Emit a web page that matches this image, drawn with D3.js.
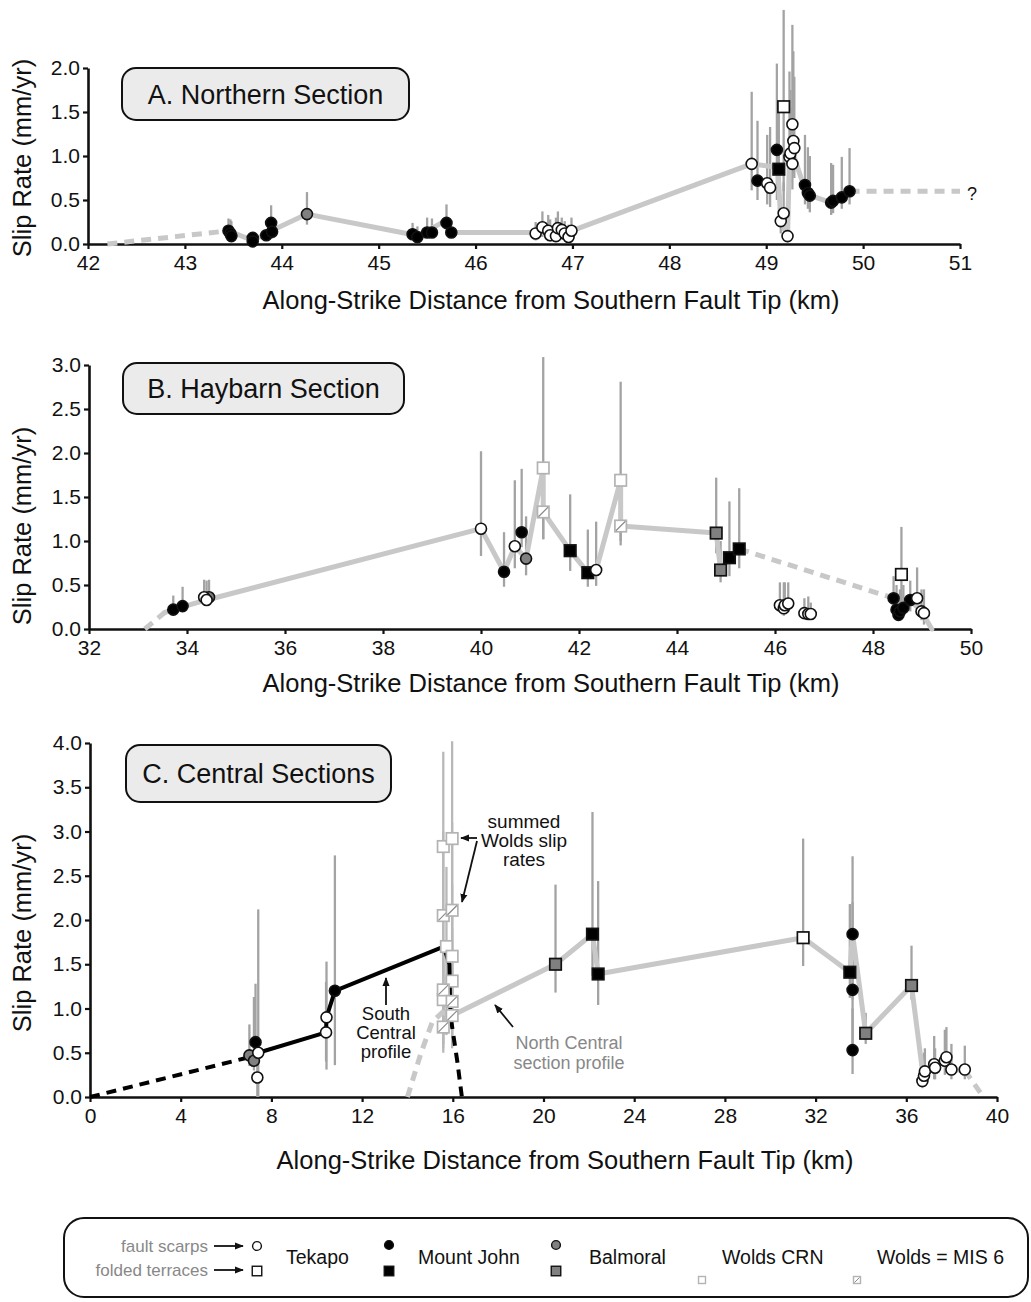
<!DOCTYPE html>
<html>
<head>
<meta charset="utf-8">
<script src="https://cdn.jsdelivr.net/npm/d3@7"></script>
<style>
  body { margin: 0; background: #fff; }
  svg { display: block; }
  text { font-family: "Liberation Sans", Arial, Helvetica, sans-serif; }
</style>
</head>
<body>
<svg id="chart" width="1031" height="1302"></svg>
<script>
// Slip-rate observations: [distance along strike (km), slip rate (mm/yr), lower bound, upper bound]

// ---- A. Northern Section ----
const northernTekapoScarps = [
  [46.62, 0.12, 0.04, 0.25], [46.69, 0.19, 0.08, 0.37], [46.75, 0.15, 0.05, 0.33],
  [46.77, 0.10, 0.03, 0.28], [46.83, 0.09, 0.03, 0.30], [46.85, 0.18, 0.07, 0.37],
  [46.89, 0.16, 0.05, 0.30], [46.92, 0.12, 0.04, 0.26], [46.96, 0.08, 0.02, 0.22],
  [46.99, 0.15, 0.05, 0.30], [48.85, 0.91, 0.61, 1.73], [49.01, 0.69, 0.45, 1.24],
  [49.04, 0.64, 0.42, 1.33], [49.15, 0.26, 0.12, 0.55], [49.18, 0.35, 0.15, 0.70],
  [49.22, 0.09, 0.02, 0.30], [49.24, 0.99, 0.65, 1.96], [49.25, 1.03, 0.70, 1.75],
  [49.27, 0.91, 0.62, 1.55], [49.27, 1.36, 0.90, 2.49], [49.28, 1.17, 0.80, 2.19],
  [49.29, 1.09, 0.75, 1.90]
];
const northernTekapoTerraces = [[49.18, 1.56, 0.60, 2.66]];
const northernMtJohnScarps = [
  [43.45, 0.15, 0.06, 0.29], [43.47, 0.12, 0.05, 0.28], [43.48, 0.09, 0.03, 0.26],
  [43.70, 0.07, 0.01, 0.12], [43.70, 0.03, 0.00, 0.10], [43.84, 0.10, 0.05, 0.16],
  [43.89, 0.24, 0.10, 0.44], [43.90, 0.14, 0.06, 0.30], [45.35, 0.11, 0.05, 0.24],
  [45.40, 0.08, 0.03, 0.20], [45.50, 0.13, 0.07, 0.30], [45.55, 0.13, 0.07, 0.29],
  [45.70, 0.24, 0.10, 0.45], [45.75, 0.13, 0.08, 0.20], [48.91, 0.72, 0.50, 1.40],
  [49.11, 1.07, 0.50, 2.05], [49.40, 0.67, 0.45, 1.24], [49.43, 0.58, 0.40, 1.10],
  [49.45, 0.55, 0.36, 1.00], [49.67, 0.47, 0.33, 0.92], [49.69, 0.49, 0.35, 0.90],
  [49.78, 0.53, 0.40, 0.99], [49.86, 0.60, 0.45, 1.09]
];
const northernMtJohnTerraces = [[49.13, 0.85, 0.55, 1.50]];
const northernBalmoralScarps = [[44.26, 0.34, 0.22, 0.59]];
const northernProfile = [
  [43.45, 0.15], [43.70, 0.04], [43.87, 0.14], [44.26, 0.34], [45.33, 0.11], [45.40, 0.09],
  [45.65, 0.24], [45.75, 0.13], [46.62, 0.13], [46.97, 0.14], [48.85, 0.91], [49.12, 0.87],
  [49.15, 0.26], [49.22, 0.09], [49.24, 0.99], [49.27, 1.05], [49.40, 0.62], [49.43, 0.56],
  [49.67, 0.47], [49.78, 0.53], [49.86, 0.60]
];
const northernSouthTip = [[42.2, 0.0], [43.45, 0.15]];
const northernNorthTip = [[49.86, 0.60], [51.0, 0.60]];
const northernXTicks = [42, 43, 44, 45, 46, 47, 48, 49, 50, 51];
const northernYTicks = [0, 0.5, 1.0, 1.5, 2.0];

// ---- B. Haybarn Section ----
const haybarnTekapoScarps = [
  [34.35, 0.36, 0.30, 0.56], [34.40, 0.33, 0.28, 0.55], [40.00, 1.14, 0.83, 2.02],
  [40.69, 0.94, 0.69, 1.69], [42.35, 0.67, 0.49, 1.22], [46.10, 0.27, 0.20, 0.53],
  [46.18, 0.235, 0.15, 0.53], [46.20, 0.27, 0.20, 0.53], [46.27, 0.29, 0.20, 0.53],
  [46.60, 0.18, 0.12, 0.35], [46.68, 0.17, 0.12, 0.37], [46.73, 0.17, 0.12, 0.30],
  [48.90, 0.35, 0.20, 0.70], [48.99, 0.20, 0.10, 0.45], [49.04, 0.18, 0.05, 0.45]
];
const haybarnTekapoTerraces = [[48.58, 0.62, 0.30, 1.16]];
const haybarnMtJohnScarps = [
  [33.72, 0.22, 0.20, 0.38], [33.91, 0.26, 0.24, 0.48], [40.47, 0.65, 0.48, 1.10],
  [40.83, 1.10, 0.93, 1.82], [48.42, 0.35, 0.20, 0.60], [48.48, 0.22, 0.15, 0.50],
  [48.52, 0.16, 0.10, 0.40], [48.55, 0.20, 0.12, 0.45], [48.62, 0.24, 0.15, 0.50],
  [48.76, 0.33, 0.20, 0.55]
];
const haybarnMtJohnTerraces = [
  [41.82, 0.89, 0.66, 1.53], [42.18, 0.64, 0.48, 1.13], [45.07, 0.81, 0.60, 1.45], [45.27, 0.91, 0.69, 1.60]
];
const haybarnBalmoralScarps = [[34.45, 0.36, 0.30, 0.56], [40.92, 0.80, 0.61, 1.28]];
const haybarnBalmoralTerraces = [[44.80, 1.09, 0.86, 1.72], [44.89, 0.67, 0.53, 1.00]];
const haybarnWoldsCRN = [[41.27, 1.83, 1.02, 3.09], [42.85, 1.69, 1.00, 2.81]];
const haybarnWoldsMIS6 = [[41.27, 1.33, 1.02, 1.60], [42.85, 1.17, 0.95, 1.40]];
const haybarnProfile = [
  [33.55, 0.19], [33.72, 0.22], [34.40, 0.33], [40.00, 1.14], [40.47, 0.65], [40.69, 0.94],
  [40.92, 0.80], [41.27, 1.83], [41.27, 1.33], [41.82, 0.89], [42.18, 0.64], [42.35, 0.67],
  [42.85, 1.69], [42.85, 1.17], [44.80, 1.09], [44.89, 0.67], [45.07, 0.81], [45.27, 0.91]
];
const haybarnSouthTip = [[33.14, 0.0], [33.55, 0.19]];
const haybarnGap = [[45.27, 0.91], [48.42, 0.35]];
const haybarnNorthEnd = [[48.42, 0.35], [48.55, 0.20], [48.76, 0.33], [48.99, 0.20], [49.20, 0.0]];
const haybarnXTicks = [32, 34, 36, 38, 40, 42, 44, 46, 48, 50];
const haybarnYTicks = [0, 0.5, 1.0, 1.5, 2.0, 2.5, 3.0];

// ---- C. Central Sections ----
const centralTekapoScarps = [
  [7.42, 0.50, 0.00, 2.12], [7.38, 0.22, 0.00, 0.40], [10.41, 0.73, 0.40, 1.30],
  [10.43, 0.90, 0.31, 1.53], [36.71, 0.18, 0.10, 0.45], [36.78, 0.24, 0.12, 0.50],
  [36.82, 0.29, 0.15, 0.55], [37.23, 0.37, 0.20, 0.69], [37.27, 0.33, 0.20, 0.55],
  [37.70, 0.41, 0.25, 0.76], [37.77, 0.45, 0.30, 0.79], [37.99, 0.31, 0.20, 0.60],
  [38.58, 0.31, 0.20, 0.58]
];
const centralTekapoTerraces = [[31.45, 1.80, 1.48, 2.92]];
const centralMtJohnScarps = [
  [7.30, 0.62, 0.35, 1.28], [10.80, 1.20, 0.36, 2.73], [33.63, 1.84, 1.10, 2.72],
  [33.63, 1.21, 0.60, 2.20], [33.63, 0.53, 0.26, 1.00]
];
const centralMtJohnTerraces = [[22.16, 1.84, 1.37, 3.22], [22.41, 1.39, 1.04, 2.44], [33.51, 1.41, 1.12, 2.18]];
const centralBalmoralScarps = [[7.03, 0.47, 0.35, 0.82], [7.23, 0.41, 0.30, 1.13]];
const centralBalmoralTerraces = [[20.53, 1.50, 1.18, 2.40], [34.21, 0.72, 0.60, 0.95], [36.23, 1.26, 1.10, 1.71]];
const centralWoldsCRN = [
  [15.58, 2.83, 0.60, 3.90], [15.97, 2.92, 0.60, 4.02], [15.72, 1.70, 0.70, 2.60],
  [15.97, 1.59, 0.80, 2.40], [15.97, 1.31, 0.90, 1.90], [15.58, 1.10, 0.70, 1.50]
];
const centralWoldsMIS6 = [
  [15.58, 2.05, 0.55, 3.00], [15.97, 2.11, 0.55, 3.10], [15.58, 1.21, 0.80, 1.70],
  [15.97, 1.08, 0.75, 1.50], [15.97, 0.92, 0.60, 1.30], [15.58, 0.79, 0.50, 1.10]
];
const southCentralProfile = [
  [7.03, 0.45], [7.42, 0.50], [10.41, 0.73], [10.43, 0.90], [10.80, 1.20], [15.60, 1.70],
  [15.85, 1.50], [15.88, 1.05], [15.92, 0.88]
];
const southCentralSouthTip = [[0.0, 0.0], [7.03, 0.45]];
const southCentralNorthTip = [[15.92, 0.88], [16.20, 0.40], [16.40, 0.0]];
const northCentralProfile = [
  [15.60, 0.95], [15.97, 0.92], [20.53, 1.50], [22.16, 1.84], [22.41, 1.39], [31.45, 1.80],
  [33.51, 1.41], [33.63, 1.84], [34.21, 0.72], [36.23, 1.26], [36.75, 0.22], [37.25, 0.35],
  [37.75, 0.43], [38.00, 0.31], [38.58, 0.30]
];
const northCentralSouthTip = [[14.0, 0.0], [14.6, 0.50], [15.1, 0.85], [15.6, 0.97]];
const northCentralNorthTip = [[38.58, 0.30], [39.4, 0.0]];
const centralXTicks = [0, 4, 8, 12, 16, 20, 24, 28, 32, 36, 40];
const centralYTicks = [0, 0.5, 1.0, 1.5, 2.0, 2.5, 3.0, 3.5, 4.0];

// ---- Legend ----
const legendUnits = ["Tekapo", "Mount John", "Balmoral", "Wolds CRN", "Wolds = MIS 6"];
const legendSiteTypes = ["fault scarps", "folded terraces"];

// ---------------------------------------------------------------
const svg = d3.select("#chart");
const ERR = "#a3a3a3", ERR_WOLDS = "#b8b8b8", PROFILE = "#c8c8c8", WOLDS = "#b3b3b3";
const BALMORAL = "#808080";
const MARK_R = 5.5, MARK_S = 11.5;

const defs = svg.append("defs");
defs.append("marker").attr("id", "arrowhead")
  .attr("viewBox", "0 0 10 10").attr("refX", 9).attr("refY", 5)
  .attr("markerWidth", 9).attr("markerHeight", 9).attr("markerUnits", "userSpaceOnUse")
  .attr("orient", "auto")
  .append("path").attr("d", "M0,1 L10,5 L0,9 Z").attr("fill", "#111");

function makePanel(cfg) {
  const x = d3.scaleLinear().domain(cfg.xDomain).range([cfg.left, cfg.right]);
  const y = d3.scaleLinear().domain(cfg.yDomain).range([cfg.bottom, cfg.top]);
  const g = svg.append("g");

  // axes
  const xa = g.append("g").attr("transform", `translate(0,${cfg.bottom})`)
    .call(d3.axisBottom(x).tickValues(cfg.xTicks).tickFormat(d3.format("d"))
      .tickSize(5).tickSizeOuter(0).tickPadding(6));
  const ya = g.append("g").attr("transform", `translate(${cfg.left},0)`)
    .call(d3.axisLeft(y).tickValues(cfg.yTicks).tickFormat(d3.format(".1f"))
      .tickSize(5).tickSizeOuter(0).tickPadding(3));
  [xa, ya].forEach(a => {
    a.select(".domain").attr("stroke", "#111").attr("stroke-width", 2.6);
    a.selectAll(".tick line").attr("stroke", "#111").attr("stroke-width", 2.2);
    a.selectAll(".tick text").attr("fill", "#111").style("font-size", "21px")
      .style("font-family", '"Liberation Sans", Arial, sans-serif');
  });

  // axis titles
  g.append("text").attr("x", cfg.xTitle[0]).attr("y", cfg.xTitle[1])
    .attr("text-anchor", "middle").style("font-size", "25.5px").attr("fill", "#111")
    .text("Along-Strike Distance from Southern Fault Tip (km)");
  g.append("text").attr("transform", `translate(${cfg.yTitle[0]},${cfg.yTitle[1]}) rotate(-90)`)
    .attr("text-anchor", "middle").style("font-size", "25.5px").attr("fill", "#111")
    .text("Slip Rate (mm/yr)");

  // section label box
  const b = cfg.box;
  g.append("rect").attr("x", b[0]).attr("y", b[1]).attr("width", b[2]).attr("height", b[3])
    .attr("rx", 14).attr("fill", "#ebebeb").attr("stroke", "#111").attr("stroke-width", 2);
  g.append("text").attr("x", b[0] + b[2] / 2).attr("y", b[1] + b[3] / 2 + 9.5)
    .attr("text-anchor", "middle").style("font-size", "27px").attr("fill", "#111")
    .text(cfg.title);

  const layers = {
    err: g.append("g"), lines: g.append("g"), marks: g.append("g"), notes: g.append("g")
  };
  return { x, y, g, layers };
}

function errorBars(p, data, color) {
  p.layers.err.selectAll(null).data(data).join("line")
    .attr("x1", d => p.x(d[0])).attr("x2", d => p.x(d[0]))
    .attr("y1", d => p.y(d[2])).attr("y2", d => p.y(d[3]))
    .attr("stroke", color || ERR).attr("stroke-width", 2.3);
}

function profile(p, data, color, width, dashed) {
  p.layers.lines.append("path").datum(data)
    .attr("d", d3.line().x(d => p.x(d[0])).y(d => p.y(d[1])))
    .attr("fill", "none").attr("stroke", color).attr("stroke-width", width)
    .attr("stroke-linejoin", "round").attr("stroke-linecap", dashed ? "butt" : "round")
    .attr("stroke-dasharray", dashed ? "10,7" : null);
}

function circles(p, data, fill) {
  p.layers.marks.selectAll(null).data(data).join("circle")
    .attr("cx", d => p.x(d[0])).attr("cy", d => p.y(d[1])).attr("r", MARK_R)
    .attr("fill", fill).attr("stroke", "#111").attr("stroke-width", 1.6);
}

function squares(p, data, fill, stroke, hatched) {
  const s = MARK_S;
  const sel = p.layers.marks.selectAll(null).data(data).join("g")
    .attr("transform", d => `translate(${p.x(d[0])},${p.y(d[1])})`);
  sel.append("rect").attr("x", -s / 2).attr("y", -s / 2).attr("width", s).attr("height", s)
    .attr("fill", fill).attr("stroke", stroke).attr("stroke-width", 1.7);
  if (hatched) {
    sel.append("line").attr("x1", -s / 2 + 1).attr("y1", s / 2 - 1).attr("x2", s / 2 - 1).attr("y2", -s / 2 + 1)
      .attr("stroke", "#8a8a8a").attr("stroke-width", 1.2);
  }
}

function arrow(layer, x1, y1, x2, y2) {
  layer.append("line").attr("x1", x1).attr("y1", y1).attr("x2", x2).attr("y2", y2)
    .attr("stroke", "#111").attr("stroke-width", 1.8).attr("marker-end", "url(#arrowhead)");
}

function note(layer, cx, baseline, text, color, size) {
  layer.append("text").attr("x", cx).attr("y", baseline).attr("text-anchor", "middle")
    .attr("fill", color).style("font-size", size + "px").text(text);
}

// ---------------- Panel A ----------------
const pA = makePanel({
  xDomain: [42, 51], yDomain: [0, 2], left: 88, right: 960, top: 68, bottom: 244,
  xTicks: northernXTicks, yTicks: northernYTicks,
  xTitle: [551, 309], yTitle: [31, 158], box: [122, 68, 287, 52], title: "A. Northern Section"
});
[northernTekapoScarps, northernTekapoTerraces, northernMtJohnScarps, northernMtJohnTerraces,
 northernBalmoralScarps].forEach(d => errorBars(pA, d));
profile(pA, northernProfile, PROFILE, 5, false);
profile(pA, northernSouthTip, PROFILE, 5, true);
profile(pA, northernNorthTip, PROFILE, 5, true);
circles(pA, northernMtJohnScarps, "#000");
circles(pA, northernBalmoralScarps, BALMORAL);
squares(pA, northernMtJohnTerraces, "#000", "#111");
circles(pA, northernTekapoScarps, "#fff");
squares(pA, northernTekapoTerraces, "#fff", "#111");
pA.layers.notes.append("text").attr("x", 967).attr("y", 200).style("font-size", "18px")
  .attr("fill", "#111").text("?");

// ---------------- Panel B ----------------
const pB = makePanel({
  xDomain: [32, 50], yDomain: [0, 3], left: 89, right: 971, top: 365, bottom: 629,
  xTicks: haybarnXTicks, yTicks: haybarnYTicks,
  xTitle: [551, 692], yTitle: [31, 526], box: [123, 363, 281, 51], title: "B. Haybarn Section"
});
[haybarnTekapoScarps, haybarnTekapoTerraces, haybarnMtJohnScarps, haybarnMtJohnTerraces,
 haybarnBalmoralScarps, haybarnBalmoralTerraces, haybarnWoldsCRN, haybarnWoldsMIS6].forEach(d => errorBars(pB, d));
profile(pB, haybarnProfile, PROFILE, 5, false);
profile(pB, haybarnSouthTip, PROFILE, 5, true);
profile(pB, haybarnGap, PROFILE, 5, true);
profile(pB, haybarnNorthEnd, PROFILE, 5, false);
squares(pB, haybarnWoldsCRN, "#fff", WOLDS);
squares(pB, haybarnWoldsMIS6, "#fff", WOLDS, true);
circles(pB, haybarnMtJohnScarps, "#000");
squares(pB, haybarnMtJohnTerraces, "#000", "#111");
circles(pB, haybarnBalmoralScarps, BALMORAL);
squares(pB, haybarnBalmoralTerraces, BALMORAL, "#111");
circles(pB, haybarnTekapoScarps, "#fff");
squares(pB, haybarnTekapoTerraces, "#fff", "#111");

// ---------------- Panel C ----------------
const pC = makePanel({
  xDomain: [0, 40], yDomain: [0, 4], left: 90, right: 997, top: 743, bottom: 1097,
  xTicks: centralXTicks, yTicks: centralYTicks,
  xTitle: [565, 1169], yTitle: [31, 933], box: [126, 745, 265, 57], title: "C. Central Sections"
});
[centralTekapoScarps, centralTekapoTerraces, centralMtJohnScarps, centralMtJohnTerraces,
 centralBalmoralScarps, centralBalmoralTerraces].forEach(d => errorBars(pC, d));
errorBars(pC, centralWoldsCRN, ERR_WOLDS);
errorBars(pC, centralWoldsMIS6, ERR_WOLDS);
profile(pC, northCentralProfile, PROFILE, 5, false);
profile(pC, northCentralSouthTip, PROFILE, 5, true);
profile(pC, northCentralNorthTip, PROFILE, 5, true);
profile(pC, southCentralProfile, "#000", 4, false);
profile(pC, southCentralSouthTip, "#000", 4, true);
profile(pC, southCentralNorthTip, "#000", 4, true);
squares(pC, centralWoldsCRN, "#fff", WOLDS);
squares(pC, centralWoldsMIS6, "#fff", WOLDS, true);
circles(pC, centralBalmoralScarps, BALMORAL);
squares(pC, centralBalmoralTerraces, BALMORAL, "#111");
circles(pC, centralMtJohnScarps, "#000");
squares(pC, centralMtJohnTerraces, "#000", "#111");
circles(pC, centralTekapoScarps, "#fff");
squares(pC, centralTekapoTerraces, "#fff", "#111");

// annotations
const nC = pC.layers.notes;
note(nC, 524, 828, "summed", "#111", 19);
note(nC, 524, 847, "Wolds slip", "#111", 19);
note(nC, 524, 866, "rates", "#111", 19);
arrow(nC, 477, 838, 461, 838);
arrow(nC, 477, 841, 462, 902);
note(nC, 386, 1020, "South", "#111", 18.5);
note(nC, 386, 1039, "Central", "#111", 18.5);
note(nC, 386, 1058, "profile", "#111", 18.5);
arrow(nC, 386, 1005, 386, 978);
note(nC, 569, 1049, "North Central", "#888", 18);
note(nC, 569, 1069, "section profile", "#888", 18);
arrow(nC, 513, 1027, 495, 1005);

// ---------------- Legend ----------------
const lg = svg.append("g");
lg.append("rect").attr("x", 64).attr("y", 1218).attr("width", 964).attr("height", 79)
  .attr("rx", 20).attr("fill", "#fff").attr("stroke", "#111").attr("stroke-width", 2);
lg.append("text").attr("x", 208).attr("y", 1252).attr("text-anchor", "end")
  .attr("fill", "#888").style("font-size", "17px").text(legendSiteTypes[0]);
lg.append("text").attr("x", 208).attr("y", 1276).attr("text-anchor", "end")
  .attr("fill", "#888").style("font-size", "17px").text(legendSiteTypes[1]);
arrow(lg, 214, 1246, 243, 1246);
arrow(lg, 214, 1270, 243, 1270);

function legendCircle(cx, cy, fill) {
  lg.append("circle").attr("cx", cx).attr("cy", cy).attr("r", 4.4)
    .attr("fill", fill).attr("stroke", "#111").attr("stroke-width", 1.4);
}
function legendSquare(cx, cy, s, fill, stroke, hatched) {
  lg.append("rect").attr("x", cx - s / 2).attr("y", cy - s / 2).attr("width", s).attr("height", s)
    .attr("fill", fill).attr("stroke", stroke).attr("stroke-width", 1.4);
  if (hatched) lg.append("line").attr("x1", cx - s / 2 + 1).attr("y1", cy + s / 2 - 1)
    .attr("x2", cx + s / 2 - 1).attr("y2", cy - s / 2 + 1).attr("stroke", "#8a8a8a").attr("stroke-width", 1);
}
function legendLabel(x, text) {
  lg.append("text").attr("x", x).attr("y", 1264).attr("fill", "#111").style("font-size", "19.5px").text(text);
}
legendCircle(257, 1246, "#fff");
legendSquare(257, 1271, 9.5, "#fff", "#111");
legendLabel(286, legendUnits[0]);
legendCircle(389, 1245, "#000");
legendSquare(389, 1271, 9.5, "#000", "#111");
legendLabel(418, legendUnits[1]);
legendCircle(556, 1245, BALMORAL);
legendSquare(556, 1271, 9.5, BALMORAL, "#111");
legendLabel(589, legendUnits[2]);
legendSquare(702, 1280, 7, "#fff", WOLDS);
legendLabel(722, legendUnits[3]);
legendSquare(857, 1280, 7, "#fff", WOLDS, true);
legendLabel(877, legendUnits[4]);
</script>
</body>
</html>
